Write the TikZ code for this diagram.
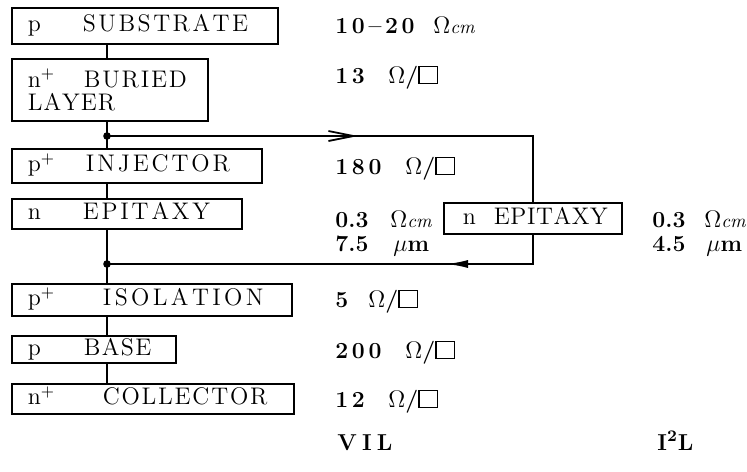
\documentclass[tikz,border=0pt]{standalone}
\usepackage{fontspec}
\usetikzlibrary{arrows.meta,calc}

% letter-spaced text: every glyph followed by a fixed gap
\newdimen\lsgap
\let\lsend\relax
\def\lsloop#1{\ifx#1\lsend\else#1\kern\lsgap\expandafter\lsloop\fi}
\newcommand\spaced[2][1.8pt]{{\lsgap=#1\relax\lsloop#2\lsend}}
% layer label: doping prefix in a fixed slot, then the spaced name
\newcommand\layertext[4][1.4pt]{\makebox[#2][l]{#3}\spaced[#1]{#4}}
% sheet-resistance square
\newcommand\sqr{{\setlength\fboxsep{0pt}\setlength\fboxrule{0.6pt}\fbox{\rule{0pt}{8pt}\hspace{8.5pt}}}}
\newcommand\ohmsq{$\Omega$/\sqr}
\newcommand\ohmcm{$\Omega${\fontsize{9.5}{11}\selectfont\mdseries\itshape cm}}
\newcommand\um{$\mu$m}

\begin{document}
\begin{tikzpicture}[x=0.5pt,y=-0.5pt,
  layer/.style={draw, line width=0.9pt, anchor=north west, inner xsep=8pt,
    inner ysep=0pt, align=left,
    font=\fontsize{12}{11.5}\selectfont\addfontfeature{FakeBold=0.6}},
  oneline/.style={text height=8.4pt, text depth=2.4pt},
  val/.style={anchor=west, inner sep=0pt, text height=8pt, text depth=0pt,
    font=\fontsize{11.5}{13}\selectfont\bfseries},
  link/.style={line width=1pt},
  junction/.style={fill=black}]
\useasboundingbox (0,0) rectangle (747,471);

% process layers (left column)
\node[layer, oneline, text width=117pt, minimum height=18pt] (sub) at (11,7)
  {\layertext[1.25pt]{27.5pt}{p}{SUBSTRATE}};
\node[layer, text width=82pt, minimum height=31pt] (bur) at (11,58)
  {\layertext[0.9pt]{28pt}{n\textsuperscript{+}}{BURIED}\\\spaced[0.5pt]{LAYER}};
\node[layer, oneline, text width=109pt, minimum height=17pt] (inj) at (11,148)
  {\layertext[1.45pt]{29pt}{p\textsuperscript{+}}{INJECTOR}};
\node[layer, oneline, text width=99pt, minimum height=15pt] (epi) at (11,198)
  {\layertext[1.4pt]{27.5pt}{n}{EPITAXY}};
\node[layer, oneline, text width=124pt, minimum height=16pt] (iso) at (11,283)
  {\layertext[1.7pt]{37.5pt}{p\textsuperscript{+}}{ISOLATION}};
\node[layer, oneline, text width=66pt, minimum height=13.5pt] (base) at (11,335)
  {\layertext[0.7pt]{28pt}{p}{BASE}};
\node[layer, oneline, text width=125pt, minimum height=15pt] (coll) at (11,383)
  {\layertext[0.9pt]{37.5pt}{n\textsuperscript{+}}{COLLECTOR}};

% alternative epitaxy branch
\node[layer, oneline, inner xsep=9.5pt, text width=70pt, minimum height=15.5pt] (epib) at (443,202)
  {\layertext[0.3pt]{15.5pt}{n}{EPITAXY}};

% spine and junctions
\coordinate (spine) at (107,0);
\coordinate (j1) at (107,136);
\coordinate (j2) at (107,264);
\coordinate (c1) at (epib.north |- j1);
\coordinate (c2) at (epib.south |- j2);
\coordinate (a1) at (358,136);
\coordinate (a2) at (446,264);

\draw[link] (spine |- sub.south) -- (spine |- bur.north);
\draw[link] (spine |- bur.south) -- (j1) -- (spine |- inj.north);
\draw[link] (spine |- inj.south) -- (spine |- epi.north);
\draw[link] (spine |- epi.south) -- (j2) -- (spine |- iso.north);
\draw[link] (spine |- iso.south) -- (spine |- base.north);
\draw[link] (spine |- base.south) -- (spine |- coll.north);

% bypass loop through the thinner epitaxy
\draw[link] (j1) -- (c1) -- (epib.north);
\draw[link] (epib.south) -- (c2) -- (j2);
\draw[link, -{Straight Barb[length=12.5pt, width=5pt, line width=0.9pt]}] ($(a1)+(-4,0)$) -- (a1);
\draw[link, -{Latex[length=11pt, width=4pt]}] ($(a2)+(4,0)$) -- (a2);

\fill[junction] (j1) circle (1.9pt);
\fill[junction] (j2) circle (1.9pt);

% layer parameters, VIL column
\node[val] (v1) at (335,25)  {\makebox[49pt][l]{\spaced{10–20}}\ohmcm};
\node[val] (v2) at (335,75)  {\makebox[26.5pt][l]{\spaced{13}}\ohmsq};
\node[val] (v3) at (335,166) {\makebox[35pt][l]{\spaced{180}}\ohmsq};
\node[val] (v4) at (335,219) {\makebox[27.5pt][l]{0.3}\ohmcm};
\node[val] (v5) at (335,243) {\makebox[29pt][l]{7.5}\um};
\node[val] (v6) at (335,299) {\makebox[16.5pt][l]{5}\ohmsq};
\node[val] (v7) at (335,350) {\makebox[35pt][l]{\spaced{200}}\ohmsq};
\node[val] (v8) at (335,399) {\makebox[26.5pt][l]{\spaced{12}}\ohmsq};

% layer parameters, I2L column
\node[val] (w1) at (652,219) {\makebox[26pt][l]{0.3}\ohmcm};
\node[val] (w2) at (652,243) {\makebox[27pt][l]{4.5}\um};

% column titles
\node[val] (t1) at (337,442) {\spaced[2.6pt]{VIL}};
\node[val] (t2) at (657,442) {I\textsuperscript{2}L};
\end{tikzpicture}
\end{document}
